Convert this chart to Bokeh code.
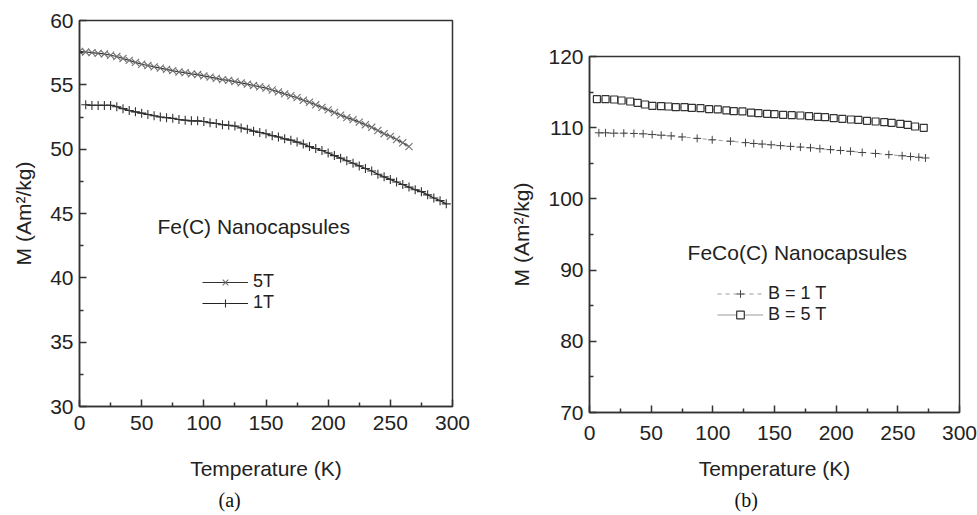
from bokeh.plotting import figure
from bokeh.layouts import row, column
from bokeh.models import FixedTicker, Label, Legend, LegendItem, Title
from bokeh.embed import file_html
from bokeh.resources import INLINE

# ---------------- data: panel (a) Fe(C) nanocapsules ----------------
a_T_5T = [0, 5, 10, 15, 20, 25, 30, 35, 40, 45, 50, 55, 60, 65, 70, 75, 80, 85, 90, 95,
          100, 105, 110, 115, 120, 125, 130, 135, 140, 145, 150, 155, 160, 165, 170, 175,
          180, 185, 190, 195, 200, 205, 210, 215, 220, 225, 230, 235, 240, 245, 250, 255,
          260, 265]
a_M_5T = [57.6, 57.55, 57.5, 57.45, 57.4, 57.3, 57.2, 57.05, 56.9, 56.75, 56.6, 56.5, 56.4,
          56.3, 56.2, 56.1, 56.0, 55.95, 55.85, 55.8, 55.7, 55.6, 55.5, 55.4, 55.35, 55.25,
          55.15, 55.05, 54.95, 54.85, 54.75, 54.6, 54.45, 54.3, 54.15, 54.0, 53.8, 53.65,
          53.45, 53.25, 53.05, 52.85, 52.65, 52.45, 52.3, 52.1, 51.9, 51.7, 51.45, 51.2,
          51.0, 50.75, 50.5, 50.2]
a_T_1T = [5, 10, 15, 20, 25, 30, 35, 40, 45, 50, 55, 60, 65, 70, 75, 80, 85, 90, 95, 100,
          105, 110, 115, 120, 125, 130, 135, 140, 145, 150, 155, 160, 165, 170, 175, 180,
          185, 190, 195, 200, 205, 210, 215, 220, 225, 230, 235, 240, 245, 250, 255, 260,
          265, 270, 275, 280, 285, 290, 295]
a_M_1T = [53.45, 53.4, 53.4, 53.4, 53.4, 53.3, 53.15, 53.0, 52.9, 52.8, 52.7, 52.6, 52.5,
          52.45, 52.4, 52.3, 52.25, 52.2, 52.2, 52.15, 52.05, 52.0, 51.9, 51.85, 51.8,
          51.65, 51.55, 51.4, 51.3, 51.2, 51.05, 50.95, 50.8, 50.7, 50.55, 50.4, 50.2,
          50.05, 49.9, 49.7, 49.5, 49.3, 49.1, 48.9, 48.7, 48.5, 48.3, 48.05, 47.85, 47.65,
          47.45, 47.25, 47.05, 46.85, 46.7, 46.45, 46.2, 46.0, 45.75]

# ---------------- data: panel (b) FeCo(C) nanocapsules ----------------
b_T_5T = [6, 13, 20, 26, 33, 39, 45, 51, 58, 64, 70, 77, 83, 90, 97, 104, 111, 117, 124,
          131, 137, 144, 150, 157, 164, 171, 178, 185, 191, 198, 205, 212, 218, 225, 232,
          239, 245, 252, 258, 264, 271]
b_M_5T = [114.0, 114.0, 113.96, 113.82, 113.68, 113.49, 113.26, 113.07, 113.02, 112.98,
          112.88, 112.88, 112.79, 112.74, 112.6, 112.56, 112.42, 112.32, 112.28, 112.13,
          112.04, 111.95, 111.9, 111.81, 111.76, 111.71, 111.62, 111.52, 111.48, 111.34,
          111.24, 111.15, 111.1, 110.96, 110.87, 110.78, 110.68, 110.54, 110.4, 110.17,
          109.98]
b_T_1T = [7.6, 13, 19.7, 27.8, 36, 43.5, 50.8, 58.1, 66.2, 75.1, 87.3, 99.5, 114.3, 126.5,
          133.2, 140, 147.3, 154.9, 163, 171, 179.2, 186.8, 195.4, 203.5, 211.6, 221.1,
          231.9, 242.7, 253.5, 260.3, 267, 272.4]
b_M_1T = [109.28, 109.28, 109.23, 109.23, 109.19, 109.14, 109.04, 108.95, 108.85, 108.7,
          108.5, 108.3, 108.1, 107.9, 107.78, 107.7, 107.6, 107.48, 107.38, 107.28, 107.18,
          107.05, 106.92, 106.8, 106.68, 106.52, 106.38, 106.22, 106.06, 105.95, 105.85,
          105.75]

x_ticks = [0, 50, 100, 150, 200, 250, 300]
x_minor = [25, 75, 125, 175, 225, 275]
a_y_ticks = [30, 35, 40, 45, 50, 55, 60]
a_y_minor = [32.5, 37.5, 42.5, 47.5, 52.5, 57.5]
b_y_ticks = [70, 80, 90, 100, 110, 120]
b_y_minor = [75, 85, 95, 105, 115]

FONT = "Liberation Sans"
AXC = "#333333"


def style(p, yt, ym, xlab_standoff, xaxis_label_standoff):
    p.grid.visible = False
    p.outline_line_color = AXC
    p.outline_line_width = 1.5
    p.xaxis.ticker = FixedTicker(ticks=x_ticks, minor_ticks=x_minor)
    p.yaxis.ticker = FixedTicker(ticks=yt, minor_ticks=ym)
    for ax in (p.xaxis[0], p.yaxis[0]):
        ax.axis_line_color = AXC
        ax.axis_line_width = 1.5
        ax.major_tick_line_color = AXC
        ax.minor_tick_line_color = AXC
        ax.major_tick_line_width = 1.5
        ax.minor_tick_line_width = 1.5
        ax.major_tick_in = 7
        ax.major_tick_out = 0
        ax.minor_tick_in = 4
        ax.minor_tick_out = 0
        ax.major_label_text_font = FONT
        ax.major_label_text_font_size = "21px"
        ax.major_label_text_color = "#222222"
        ax.axis_label_text_font = FONT
        ax.axis_label_text_font_size = "21px"
        ax.axis_label_text_font_style = "normal"
        ax.axis_label_text_color = "#222222"
    p.xaxis.axis_label = "Temperature (K)"
    p.yaxis.axis_label = "M (Am²/kg)"
    p.xaxis.major_label_standoff = xlab_standoff
    p.xaxis.axis_label_standoff = xaxis_label_standoff
    p.yaxis.major_label_standoff = 6
    p.yaxis.axis_label_standoff = 12


def caption(text, offset):
    return Title(text=text, align="left", offset=offset, standoff=9,
                 text_font="Liberation Serif", text_font_size="20px",
                 text_font_style="normal", text_color="#111111")


# ---------------- panel (a) ----------------
pa = figure(width=500, height=515, x_range=(0, 300), y_range=(30, 60),
            output_backend="svg", toolbar_location=None,
            min_border_left=79, min_border_right=48, min_border_top=20,
            min_border_bottom=108)
style(pa, a_y_ticks, a_y_minor, 9, 24)

l5 = pa.line(a_T_5T, a_M_5T, line_color="#333333", line_width=1.2)
s5 = pa.scatter(a_T_5T, a_M_5T, marker="x", size=10, line_color="#707070", line_width=1.1)
l1 = pa.line(a_T_1T, a_M_1T, line_color="#222222", line_width=1.2)
s1 = pa.scatter(a_T_1T, a_M_1T, marker="cross", size=9, line_color="#333333", line_width=1.1)

pa.add_layout(Label(x=62.7, y=44.0, text="Fe(C) Nanocapsules", text_font=FONT,
                    text_font_size="21px", text_color="#222222", text_baseline="middle"))
leg_a = Legend(items=[LegendItem(label="5T", renderers=[l5, s5]),
                      LegendItem(label="1T", renderers=[l1, s1])],
               location=(123, 93), glyph_width=46, glyph_height=20, label_height=20,
               label_standoff=5, spacing=0, padding=0, margin=0,
               border_line_color=None, background_fill_alpha=0,
               label_text_font=FONT, label_text_font_size="18px",
               label_text_color="#222222")
pa.add_layout(leg_a)
pa.add_layout(caption("(a)", 139), "below")

# ---------------- panel (b) ----------------
pb = figure(width=477, height=515, x_range=(0, 300), y_range=(70, 120),
            output_backend="svg", toolbar_location=None,
            min_border_left=89, min_border_right=18, min_border_top=56,
            min_border_bottom=103)
style(pb, b_y_ticks, b_y_minor, 13, 14)

bl1 = pb.line(b_T_1T, b_M_1T, line_color="#9a9a9a", line_width=1, line_dash="4 4")
bs1 = pb.scatter(b_T_1T, b_M_1T, marker="cross", size=8, line_color="#444444", line_width=1)
bl5 = pb.line(b_T_5T, b_M_5T, line_color="#9a9a9a", line_width=1)
bs5 = pb.scatter(b_T_5T, b_M_5T, marker="square", size=7, line_color="#333333",
                 fill_color="white", line_width=1.2)

pb.add_layout(Label(x=79.5, y=92.47, text="FeCo(C) Nanocapsules", text_font=FONT,
                    text_font_size="21px", text_color="#222222", text_baseline="middle"))
leg_b = Legend(items=[LegendItem(label="B = 1 T", renderers=[bl1, bs1]),
                      LegendItem(label="B = 5 T", renderers=[bl5, bs5])],
               location=(128, 87), glyph_width=46, glyph_height=19, label_height=19,
               label_standoff=5, spacing=0, padding=0, margin=0,
               border_line_color=None, background_fill_alpha=0,
               label_text_font=FONT, label_text_font_size="18px",
               label_text_color="#222222")
pb.add_layout(leg_b)
pb.add_layout(caption("(b)", 145), "below")

layout = row(column(pa), column(pb))
open("out.html", "w").write(file_html(layout, INLINE))
